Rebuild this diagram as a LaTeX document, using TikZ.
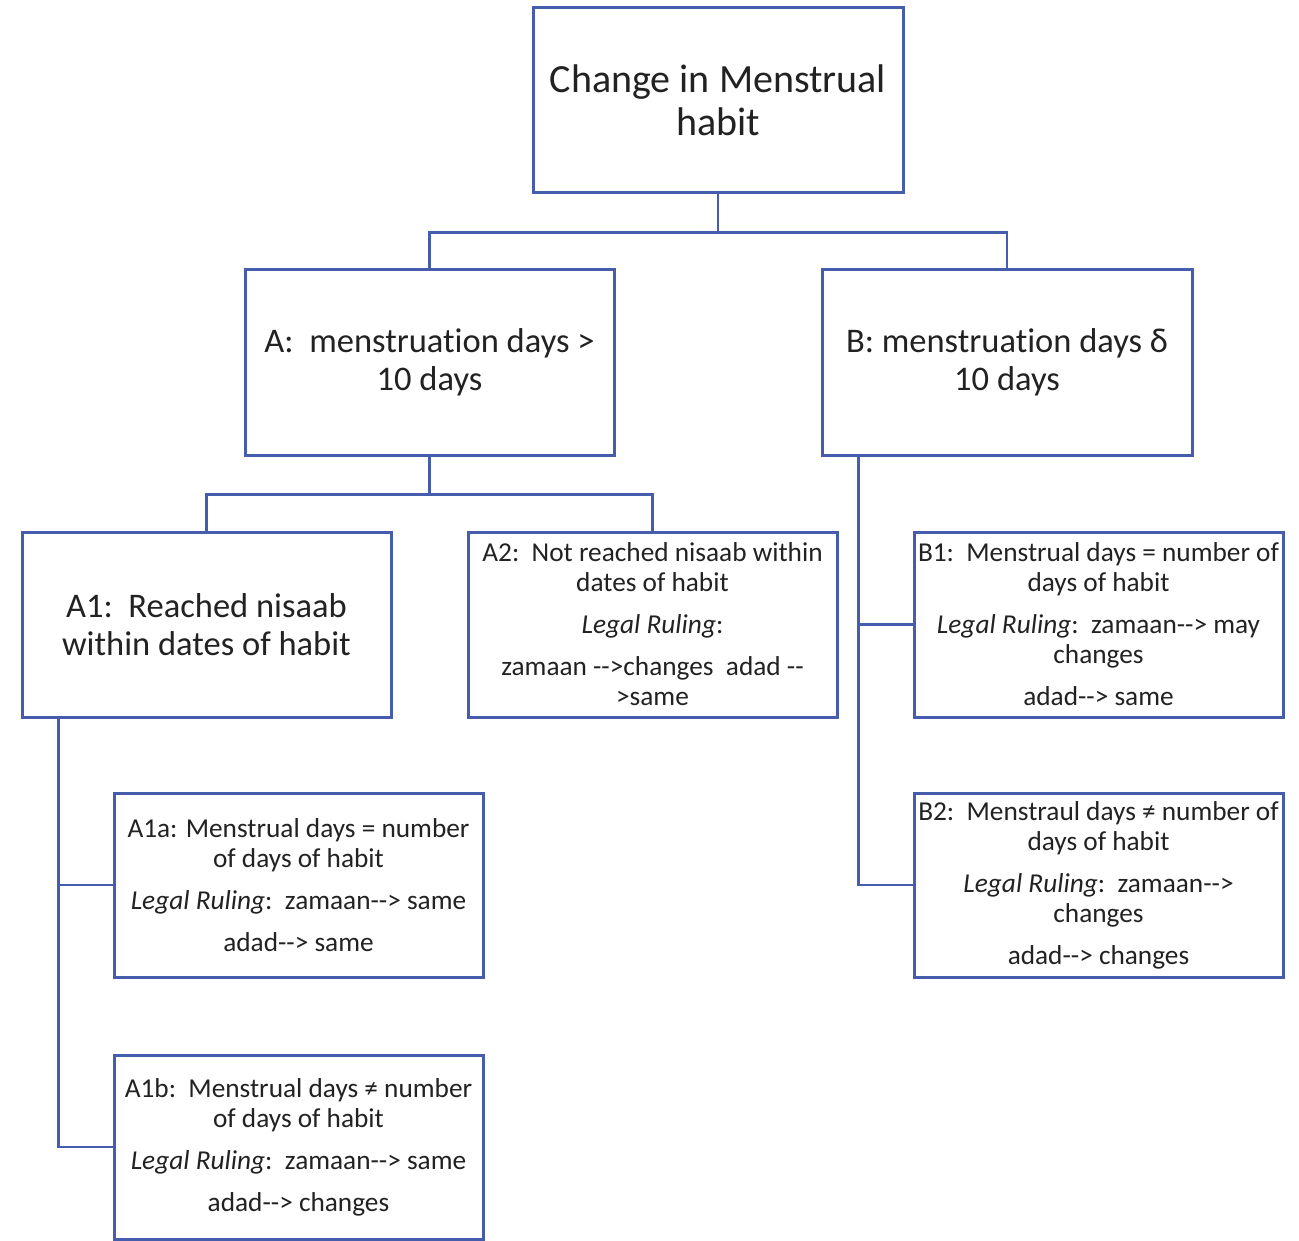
\documentclass[tikz,border=0pt]{standalone}
\usepackage{fontspec}
\setmainfont{Carlito}[Ligatures=NoCommon]
\usetikzlibrary{calc}
\definecolor{boxblue}{RGB}{70,92,172}
\definecolor{txt}{RGB}{34,34,34}
\tikzset{
  box/.style={draw=boxblue, line width=3pt, fill=white, text=txt, align=center, inner sep=0pt, minimum width=369pt, minimum height=185pt},
  bigtext/.style={font=\fontsize{40}{43}\selectfont},
  midtext/.style={font=\fontsize{34.5}{38}\selectfont},
  smalltext/.style={font=\fontsize{27.3}{30}\selectfont},
  conn/.style={draw=boxblue, line width=2.5pt}
}
\begin{document}
\begin{tikzpicture}[x=1pt,y=-1pt]
\useasboundingbox (0,0) rectangle (1299,1241);
\node[box,bigtext,minimum width=370pt] (root) at (718,100.5) {Change in Menstrual\\habit};
\node[box,midtext] (A) at (429.5,362.5) {A:\ \ menstruation days >\\10 days};
\node[box,midtext,minimum width=370pt] (B) at (1007,362.5) {B: menstruation days δ\\10 days};
\node[box,midtext] (A1) at (206.5,624.5) {A1:\ \ Reached nisaab\\within dates of habit};
\node[box,smalltext] (A2) at (652.5,624.5) {A2:\ \ Not reached nisaab within\\dates of habit\\[12pt]\textit{Legal Ruling}:\\[12pt]zamaan -{}->changes\ \ adad -{}-\\>same};
\node[box,smalltext] (B1) at (1098.5,624.5) {B1:\ \ Menstrual days = number of\\days of habit\\[12pt]\textit{Legal Ruling}:\ \ zamaan-{}-> may\\changes\\[12pt]adad-{}-> same};
\node[box,smalltext,minimum height=184pt] (B2) at (1098.5,885) {B2:\ \ Menstraul days ≠ number of\\days of habit\\[12pt]\textit{Legal Ruling}:\ \ zamaan-{}->\\changes\\[12pt]adad-{}-> changes};
\node[box,smalltext,minimum height=184pt] (A1a) at (298.5,885) {A1a: Menstrual days = number\\of days of habit\\[12pt]\textit{Legal Ruling}:\ \ zamaan-{}-> same\\[12pt]adad-{}-> same};
\node[box,smalltext,minimum height=184pt] (A1b) at (298.5,1147) {A1b:\ \ Menstrual days ≠ number\\of days of habit\\[12pt]\textit{Legal Ruling}:\ \ zamaan-{}-> same\\[12pt]adad-{}-> changes};
% connectors
\coordinate (rj) at ($(root.south)+(0,38)$);
\draw[conn] (root.south) -- (rj);
\draw[conn] (rj) -| (A.north);
\draw[conn] (rj) -| (B.north);
\coordinate (aj) at ($(A.south)+(0,38)$);
\draw[conn] (A.south) -- (aj);
\draw[conn] (aj) -| (A1.north);
\draw[conn] (aj) -| (A2.north);
\coordinate (a1s) at ($(A1.south west)+(38,0)$);
\draw[conn] (a1s) |- (A1a.west);
\draw[conn] (a1s) |- (A1b.west);
\coordinate (bs) at ($(B.south west)+(38,0)$);
\draw[conn] (bs) |- (B1.west);
\draw[conn] (bs) |- (B2.west);
\end{tikzpicture}
\end{document}
